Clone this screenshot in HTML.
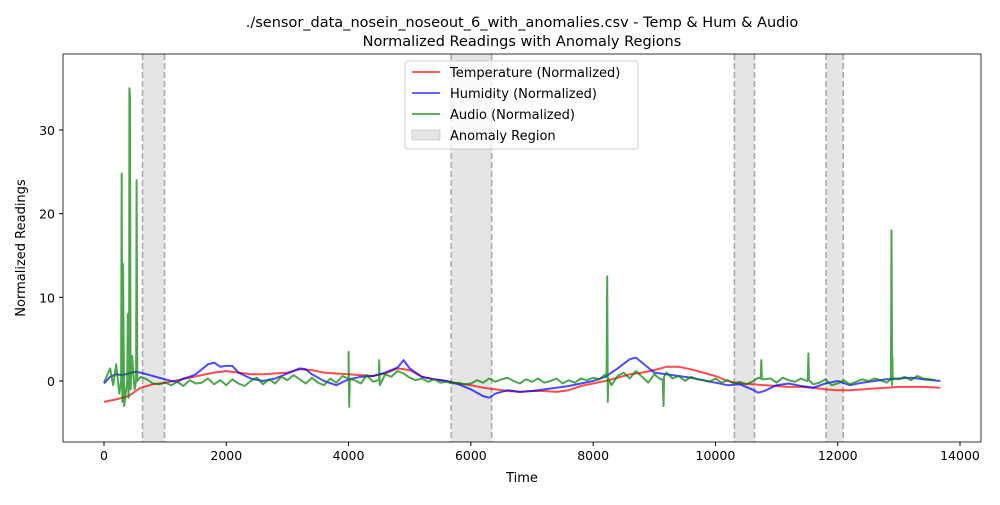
<!DOCTYPE html>
<html><head><meta charset="utf-8"><style>
body{margin:0;background:#fff;font-family:"Liberation Sans","DejaVu Sans",sans-serif}
svg text{font-family:"DejaVu Sans","Liberation Sans",sans-serif}
</style></head><body>
<svg id="chart" width="1000" height="500" xmlns="http://www.w3.org/2000/svg">
<text x="522" y="27" font-size="14.5" text-anchor="middle">./sensor_data_nosein_noseout_6_with_anomalies.csv - Temp &amp; Hum &amp; Audio</text>
<text x="522" y="46" font-size="14.5" text-anchor="middle">Normalized Readings with Anomaly Regions</text>
<g id="regions"></g><g id="series"></g><g id="axes"></g>
<rect x="63" y="54" width="918" height="388" fill="none" stroke="#000" stroke-width="0.8"/>
<text x="522" y="482" font-size="13" text-anchor="middle">Time</text>
<text transform="translate(25,248) rotate(-90)" font-size="13" text-anchor="middle">Normalized Readings</text>
<g>
<rect x="405" y="61" width="233" height="88" rx="3" fill="#fff" fill-opacity="0.8" stroke="#ccc"/>
<line x1="412" y1="72" x2="440" y2="72" stroke="red" stroke-opacity="0.7" stroke-width="1.8"/>
<text x="450" y="77" font-size="13">Temperature (Normalized)</text>
<line x1="412" y1="93" x2="440" y2="93" stroke="blue" stroke-opacity="0.7" stroke-width="1.8"/>
<text x="450" y="98" font-size="13">Humidity (Normalized)</text>
<line x1="412" y1="114" x2="440" y2="114" stroke="green" stroke-opacity="0.7" stroke-width="1.8"/>
<text x="450" y="119" font-size="13">Audio (Normalized)</text>
<rect x="412" y="130" width="28" height="10" fill="#bbb" fill-opacity="0.4" stroke="#aaa" stroke-width="0.5"/>
<text x="450" y="140" font-size="13">Anomaly Region</text>
</g>
</svg>
<script>
const xTicks=[0,2000,4000,6000,8000,10000,12000,14000];
const yTicks=[0,10,20,30];
const anomalyStarts=[630,5680,10310,11810];
const anomalyEnds=[990,6340,10640,12090];
const tempT=[0,200,400,600,800,1000,1200,1400,1600,1800,2000,2200,2400,2600,2800,3000,3200,3400,3600,3800,4000,4200,4400,4600,4800,5000,5200,5400,5600,5800,6000,6200,6400,6600,6800,7000,7200,7400,7600,7800,8000,8200,8400,8600,8800,9000,9200,9400,9600,9800,10000,10200,10400,10600,10800,11000,11200,11400,11600,11800,12000,12200,12400,12600,12800,13000,13200,13400,13680];
const tempV=[-2.5,-2.2,-1.8,-0.8,-0.4,-0.2,0.1,0.4,0.7,1.0,1.2,1.0,0.8,0.8,0.9,1.0,1.4,1.3,1.0,0.9,0.8,0.7,0.6,0.9,1.5,1.3,0.5,0.2,0.0,-0.3,-0.5,-0.8,-1.0,-1.2,-1.3,-1.2,-1.2,-1.3,-1.1,-0.6,-0.3,0.0,0.4,0.8,1.0,1.3,1.7,1.7,1.4,1.0,0.6,0.0,-0.3,-0.4,-0.5,-0.6,-0.7,-0.7,-0.8,-1.0,-1.1,-1.1,-1.0,-0.9,-0.8,-0.7,-0.7,-0.7,-0.8];
const humT=[0,100,200,300,400,500,600,700,800,900,1000,1100,1200,1300,1400,1500,1600,1700,1800,1900,2000,2100,2200,2400,2600,2800,3000,3200,3300,3400,3600,3800,4000,4200,4400,4600,4800,4900,5000,5200,5400,5600,5800,6000,6200,6300,6400,6600,6800,7000,7200,7400,7600,7800,8000,8200,8400,8600,8700,8800,9000,9200,9400,9600,9800,10000,10200,10400,10600,10700,10800,11000,11200,11400,11600,11800,12000,12200,12400,12600,12800,13000,13200,13400,13680];
const humV=[-0.3,0.5,0.8,0.7,0.9,1.1,1.0,0.8,0.6,0.4,0.2,0.0,-0.1,0.3,0.5,0.8,1.4,2.0,2.2,1.7,1.8,1.8,1.0,0.3,0.0,0.3,0.9,1.5,1.4,0.8,0.0,-0.5,0.2,0.5,0.6,1.0,1.6,2.5,1.5,0.5,0.2,0.0,-0.4,-1.0,-1.8,-2.0,-1.5,-1.1,-1.3,-1.2,-1.0,-0.8,-0.6,-0.3,0.0,0.5,1.5,2.6,2.8,2.2,1.0,0.8,0.6,0.4,0.1,-0.2,-0.5,-0.4,-1.0,-1.4,-1.2,-0.5,-0.3,-0.6,-0.8,-0.3,0.0,-0.5,-0.2,0.0,0.2,0.3,0.4,0.2,0.0];
const audioStartT=600, audioStep=100;
const audioBase=[0.5,0.2,-0.3,-0.4,-0.2,-0.5,-0.1,-0.6,0.1,-0.3,
-0.2,0.3,-0.4,0.1,-0.5,0.2,-0.3,-0.6,0.0,0.4,
-0.4,0.2,-0.3,0.5,0.1,0.7,0.2,-0.3,0.4,-0.2,
-0.5,0.3,-0.2,0.6,0.5,0.1,-0.3,0.7,-0.1,0.3,
0.8,0.5,1.2,0.9,0.4,0.1,0.3,-0.1,0.2,-0.2,
-0.1,-0.3,-0.2,-0.4,-0.3,0.1,-0.2,0.3,-0.1,0.2,
0.4,0.0,-0.3,0.2,-0.1,0.3,-0.2,0.0,0.3,-0.3,
0.1,-0.2,0.3,0.1,0.4,0.2,0.8,-0.5,0.6,1.0,
0.3,1.2,0.5,-0.2,0.8,0.2,1.0,0.3,0.6,0.0,
0.5,0.2,0.1,-0.1,0.3,-0.2,0.1,-0.3,-0.1,-0.4,
-0.1,0.4,0.2,0.3,-0.2,0.4,0.1,-0.1,0.3,0.0,
-0.4,-0.2,0.2,-0.5,-0.3,0.1,-0.4,-0.1,0.2,0.0,
0.3,0.1,-0.2,0.4,0.2,0.5,0.1,0.6,0.3,0.2,
0.1];
const audioEventT=[0,100,150,200,250,280,290,300,310,330,380,390,400,410,415,425,435,460,500,525,533,545,3990,4000,4010,4020,4490,4500,4510,8220,8230,8240,8250,9140,9150,9160,10740,10750,10760,11510,11520,11530,12870,12880,12890,12895,12905];
const audioEventV=[-0.2,1.5,-0.5,2.0,-1.5,0,24.8,-2.5,14,-3,0,8,-2,1,35,34,-1,3,-1,0,24,0,0.3,3.5,-3.1,0.2,0.1,2.5,-0.5,0.5,12.5,-2.5,0.3,0.2,-3,0.5,0.3,2.5,0.2,0.2,3.3,0.1,0.2,18,-0.5,3,0.3];

const NS="http://www.w3.org/2000/svg";
const L=63,R=981,T=54,B=442;
const xs=t=>104+t*(856/14000);
const ys=v=>381-v*8.367;
function el(tag,attrs,parent){const e=document.createElementNS(NS,tag);for(const k in attrs)e.setAttribute(k,attrs[k]);parent.appendChild(e);return e;}
const reg=document.getElementById('regions'),ser=document.getElementById('series'),ax=document.getElementById('axes');
anomalyStarts.forEach((s,i)=>{
  const x1=xs(s),x2=xs(anomalyEnds[i]);
  const r=el('rect',{x:x1,y:T,width:x2-x1,height:B-T,fill:'#999','fill-opacity':0.25},reg);
  
  
  [x1,x2].forEach(x=>{const l=el('line',{x1:x,x2:x,y1:T,y2:B,stroke:'#aaa','stroke-width':1.6,'stroke-dasharray':'6,3'},reg);
  
  });
});
function line(ts,vs,color,name){
  const p=ts.map((t,i)=>xs(t).toFixed(1)+','+ys(vs[i]).toFixed(1)).join(' ');
  const pl=el('polyline',{points:p,fill:'none',stroke:color,'stroke-opacity':0.7,'stroke-width':2,'stroke-linejoin':'round'},ser);
  
  
}
line(tempT,tempV,'red','temperature-line');
line(humT,humV,'blue','humidity-line');
const aPts=audioBase.map((v,i)=>[audioStartT+i*audioStep,v]).concat(audioEventT.map((t,i)=>[t,audioEventV[i]])).sort((a,b)=>a[0]-b[0]);
line(aPts.map(p=>p[0]),aPts.map(p=>p[1]),'green','audio-line');
xTicks.forEach(t=>{const x=xs(t);el('line',{x1:x,x2:x,y1:B,y2:B+4,stroke:'#000'},ax);
  const tx=el('text',{x:x,y:B+18,'font-size':12.5,'text-anchor':'middle'},ax);tx.textContent=t;
  
  });
yTicks.forEach(v=>{const y=ys(v);el('line',{x1:L-4,x2:L,y1:y,y2:y,stroke:'#000'},ax);
  const tx=el('text',{x:L-8,y:y+5,'font-size':12.5,'text-anchor':'end'},ax);tx.textContent=v;
  
  });
</script>
</body></html>
